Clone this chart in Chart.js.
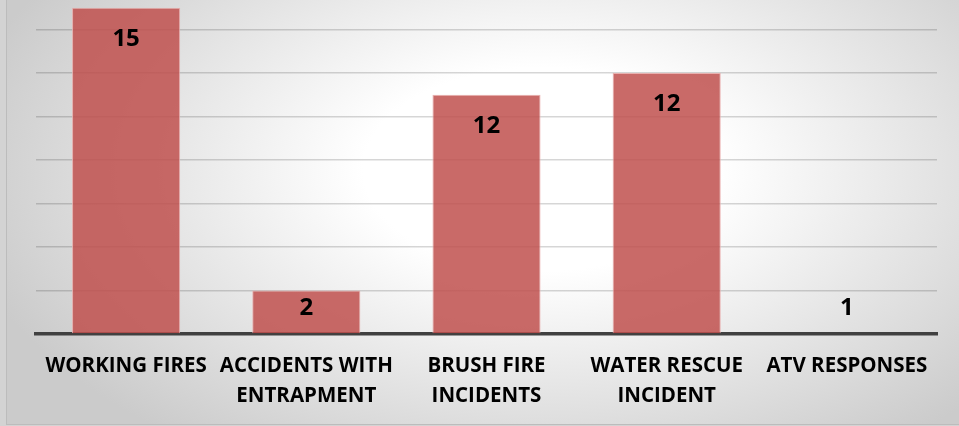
<!DOCTYPE html>
<html>
<head>
<meta charset="utf-8">
<script src="https://cdn.jsdelivr.net/npm/chart.js@4.4.0/dist/chart.umd.min.js"></script>
<style>
  html, body { margin: 0; padding: 0; }
  body { width: 959px; height: 426px; background: #d3d3d3; overflow: hidden; position: relative; }
  #frame {
    position: absolute; left: 6px; top: 0; width: 953px; height: 424px;
    border-left: 1px solid #bcbcbc; border-bottom: 1px solid #bcbcbc;
    background: radial-gradient(ellipse 62% 80% at 56% 40%, #ffffff 30%, #cbcbcb 100%);
  }
  #chart { position: absolute; left: 0; top: 0; }
</style>
</head>
<body>
<div id="frame"></div>
<canvas id="chart" width="959" height="426"></canvas>
<script>
const categories = [
  ["WORKING FIRES"],
  ["ACCIDENTS WITH", "ENTRAPMENT"],
  ["BRUSH FIRE", "INCIDENTS"],
  ["WATER RESCUE", "INCIDENT"],
  ["ATV RESPONSES"],
];
// bar heights as drawn, and the label texts as printed on the chart
const barValues = [15, 2, 11, 12, 0];
const labelTexts = ["15", "2", "12", "12", "1"];

const chartDiv = document.getElementById("chart");

const valueLabels = {
  id: "valueLabels",
  afterDatasetsDraw(chart) {
    const ctx = chart.ctx;
    const meta = chart.getDatasetMeta(0);
    const bottom = chart.chartArea.bottom;
    ctx.save();
    ctx.font = "700 24px 'Open Sans'";
    ctx.fillStyle = "#000";
    ctx.textAlign = "center";
    ctx.textBaseline = "middle";
    meta.data.forEach((bar, i) => {
      const y = Math.min(bar.y + 31, bottom - 25.5);
      ctx.fillText(labelTexts[i], bar.x, y);
    });
    ctx.restore();
  },
};

new Chart(chartDiv, {
  type: "bar",
  data: {
    labels: categories,
    datasets: [
      {
        data: barValues,
        backgroundColor: "rgba(192, 80, 77, 0.85)",
        borderColor: "rgba(232, 170, 168, 0.9)",
        borderWidth: 1,
        barPercentage: 0.6,
        categoryPercentage: 1,
      },
    ],
  },
  options: {
    responsive: false,
    animation: false,
    layout: {
      padding: { left: 36, right: 22, top: 7.75, bottom: 0 },
    },
    scales: {
      x: {
        grid: { display: false, drawTicks: false },
        border: { display: true, color: "#404040", width: 3.5 },
        ticks: {
          color: "#000",
          font: { family: "'Open Sans'", size: 20.5, weight: "700", lineHeight: 30 / 20.5 },
          padding: 17.5,
          maxRotation: 0,
          autoSkip: false,
        },
        afterFit: (scale) => {
          scale.height = 92;
        },
      },
      y: {
        min: 0,
        max: 15,
        grid: { color: "rgba(0, 0, 0, 0.16)", lineWidth: 1.5, drawTicks: false },
        border: { display: false },
        ticks: { display: false, stepSize: 2, includeBounds: false },
        afterFit: (scale) => {
          scale.width = 0;
        },
      },
    },
    plugins: {
      legend: { display: false },
      title: { display: false },
      tooltip: { enabled: false },
    },
  },
  plugins: [valueLabels],
});
</script>
</body>
</html>
